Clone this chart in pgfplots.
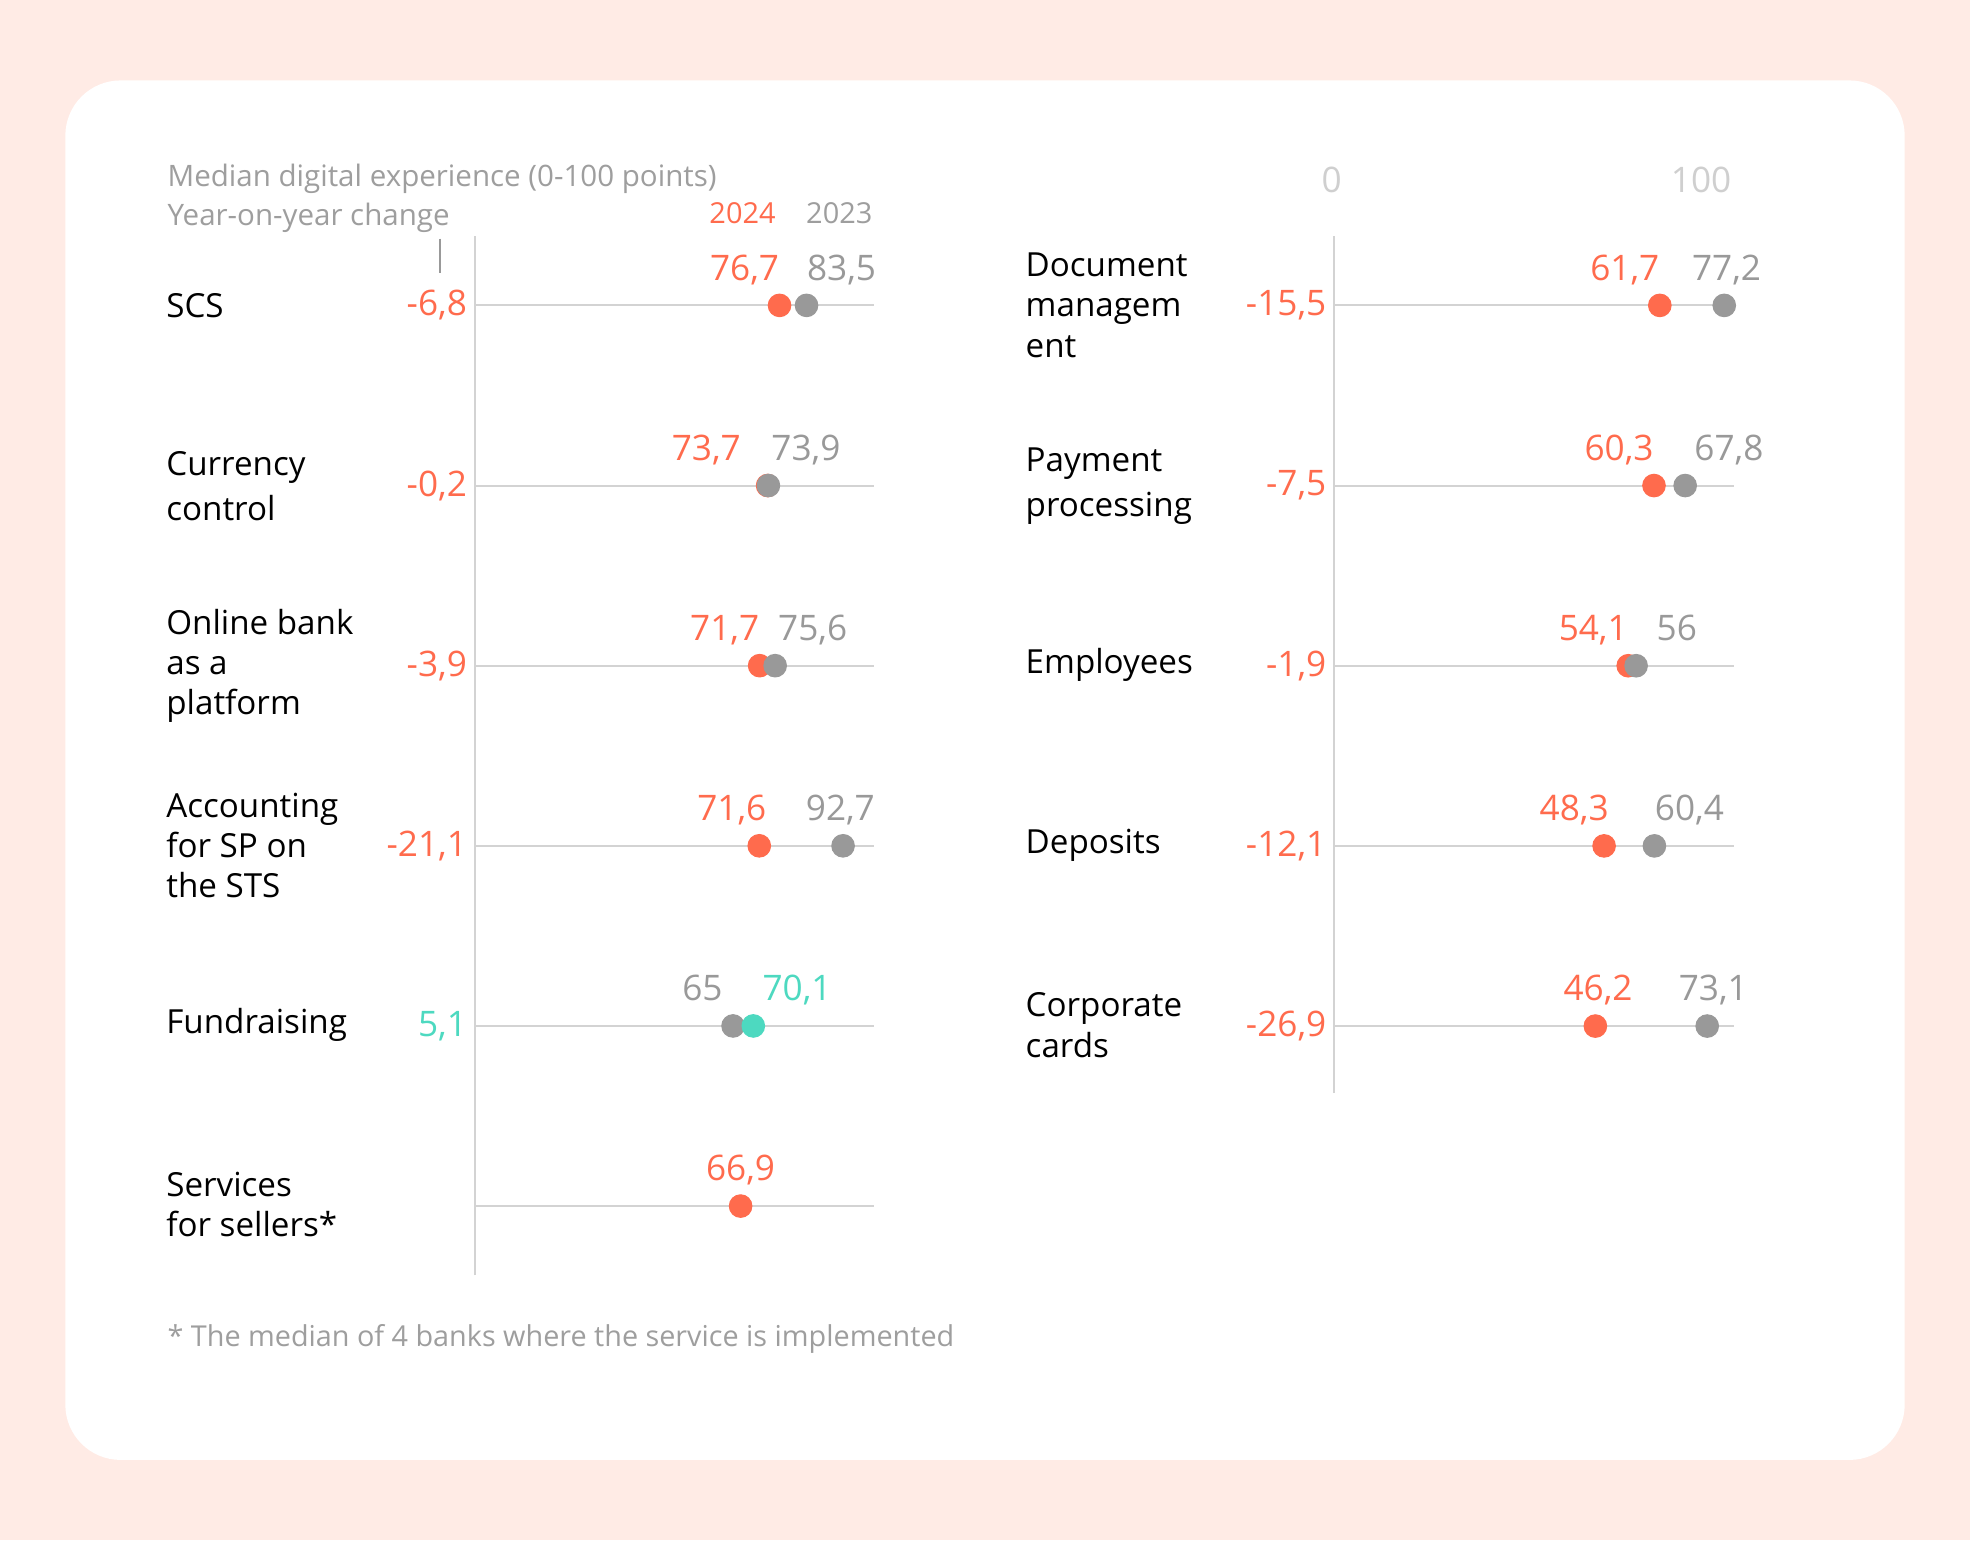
\documentclass[border=0pt]{standalone}
\usepackage{pgfplots}
\pgfplotsset{compat=1.18}
\usepackage{pgfplotstable}
\usepackage{fontspec}
\setmainfont{Open Sans}

\definecolor{bgpeach}{HTML}{FFEBE5}
\definecolor{myorange}{HTML}{FF6B4D}
\definecolor{mygray}{HTML}{999999}
\definecolor{hdrgray}{HTML}{9E9E9E}
\definecolor{myteal}{HTML}{4DD9C0}
\definecolor{linegray}{HTML}{D3D3D3}
\definecolor{lightnum}{HTML}{CFCFCF}

\newcommand\valfont{\fontsize{14}{16}\selectfont}
\newcommand\catfont{\fontsize{13.2}{16}\selectfont}
\newcommand\hdrfont{\fontsize{11.75}{13}\selectfont}

% dx = horizontal nudge of the value label (pt)
\pgfplotstableread{
x    y  dx
76.7 0  0
73.7 1  -10.5
71.7 2  0
71.6 3  3
}\leftnew
\pgfplotstableread{
x    y  dx
83.5 0  0
73.9 1  1
75.6 2  1
92.7 3  -15
}\leftold
\pgfplotstableread{
x    y  dx
65   4  -4
}\leftoldfund
\pgfplotstableread{
x    y  dx
70.1 4  3.5
}\leftnewfund
\pgfplotstableread{
x    y  dx
61.7 0  0
60.3 1  0
54.1 2  0
48.3 3  2
46.2 4  15
}\rightnew
\pgfplotstableread{
x    y  dx
77.2 0  -13
67.8 1  3.5
56   2  8
60.4 3  0
73.1 4  -11.5
}\rightold

\tikzset{chg/.style={anchor=east, inner sep=0pt, xshift=-3pt, text=myorange, font=\valfont}}

\pgfplotsset{
  dotaxis/.style={
    scale only axis, hide axis, clip=false, y dir=reverse,
    width=159pt, anchor=north west,
    /pgf/number format/use comma,
    /pgf/number format/assume math mode=true,
  },
  rowline/.style={linegray, line width=0.8pt, forget plot},
  dots/.style={only marks, mark=*, mark size=4.5pt, point meta=x, nodes near coords,
    visualization depends on={\thisrow{dx} \as \dx}},
  lowlab/.style={dots,
    every node near coord/.append style={anchor=base east, yshift=10pt, xshift=\dx pt, inner sep=0pt, font=\valfont}},
  highlab/.style={dots,
    every node near coord/.append style={anchor=base west, yshift=10pt, xshift=\dx pt, inner sep=0pt, font=\valfont}},
}

\begin{document}
\begin{tikzpicture}[x=0.5pt,y=-0.5pt]
\fill[bgpeach] (0,0) rectangle (1568,1226);
\fill[white, rounded corners=22pt] (52,64) rectangle (1516,1162);

\coordinate (L) at (378,188);
\coordinate (R) at (1062,188);

% header texts
\node[anchor=west, inner sep=0pt, text=hdrgray, font=\hdrfont] at (133,142) {Median digital experience (0-100 points)};
\node[anchor=west, inner sep=0pt, text=hdrgray, font=\hdrfont] at (133,173) {Year-on-year change};
\node[inner sep=0pt, text=myorange, font=\fontsize{11.5}{13}\selectfont] at (591,170) {2024};
\node[inner sep=0pt, text=hdrgray, font=\fontsize{11.5}{13}\selectfont] at (668,170) {2023};
\draw[mygray, line width=0.8pt] (350,190) -- (350,217);
\node[inner sep=0pt, text=lightnum, font=\fontsize{14}{16}\selectfont] at (1060,143) {0};
\node[inner sep=0pt, text=lightnum, font=\fontsize{14}{16}\selectfont] at (1354,143) {100};

% left panel
\begin{axis}[dotaxis, at={(L)}, height=413.5pt,
  xmin=0, xmax=100.6, ymin=-0.384, ymax=5.384]
\draw[linegray, line width=0.8pt] (rel axis cs:0,0) -- (rel axis cs:0,1);
\addplot[rowline] coordinates {(0,0)(100.6,0)};
\addplot[rowline] coordinates {(0,1)(100.6,1)};
\addplot[rowline] coordinates {(0,2)(100.6,2)};
\addplot[rowline] coordinates {(0,3)(100.6,3)};
\addplot[rowline] coordinates {(0,4)(100.6,4)};
\addplot[rowline] coordinates {(0,5)(100.6,5)};
% 2024
\addplot[lowlab, color=myorange] table {\leftnew};
\addplot[only marks, mark=*, mark size=4.5pt, color=myorange, point meta=x, nodes near coords,
  every node near coord/.append style={anchor=base, yshift=10pt, inner sep=0pt, font=\valfont}]
  coordinates {(66.9,5)};
% 2023
\addplot[highlab, color=mygray] table {\leftold};
\addplot[lowlab, color=mygray] table {\leftoldfund};
% 2024, growth
\addplot[highlab, color=myteal] table {\leftnewfund};
% changes
\node[chg] at (axis cs:0,0) {-6,8};
\node[chg] at (axis cs:0,1) {-0,2};
\node[chg] at (axis cs:0,2) {-3,9};
\node[chg] at (axis cs:0,3) {-21,1};
\node[chg, text=myteal] at (axis cs:0,4) {5,1};
\end{axis}

% right panel
\begin{axis}[dotaxis, at={(R)}, height=341pt,
  xmin=-16.6, xmax=79.5, ymin=-0.384, ymax=4.372]
\draw[linegray, line width=0.8pt] (rel axis cs:0,0) -- (rel axis cs:0,1);
\addplot[rowline] coordinates {(-16.6,0)(79.5,0)};
\addplot[rowline] coordinates {(-16.6,1)(79.5,1)};
\addplot[rowline] coordinates {(-16.6,2)(79.5,2)};
\addplot[rowline] coordinates {(-16.6,3)(79.5,3)};
\addplot[rowline] coordinates {(-16.6,4)(79.5,4)};
% 2024
\addplot[lowlab, color=myorange] table {\rightnew};
% 2023
\addplot[highlab, color=mygray] table {\rightold};
% changes
\node[chg] at (axis cs:-16.6,0) {-15,5};
\node[chg] at (axis cs:-16.6,1) {-7,5};
\node[chg] at (axis cs:-16.6,2) {-1,9};
\node[chg] at (axis cs:-16.6,3) {-12,1};
\node[chg] at (axis cs:-16.6,4) {-26,9};
\end{axis}

% category names
\begin{scope}[every node/.style={anchor=west, align=left, inner sep=0pt, font=\catfont}]
\node at (132,243) {SCS};
\node at (132,387) {Currency\\[2pt]control};
\node at (132,530) {Online bank\\as a\\platform};
\node at (132,673) {Accounting\\for SP on\\the STS};
\node at (132,816) {Fundraising};
\node at (132,959) {Services\\for sellers*};
\node at (816,243) {Document\\managem\\ent};
\node at (816,387) {Payment\\[2pt]processing};
\node at (816,529) {Employees};
\node at (816,673) {Deposits};
\node at (816,816) {Corporate\\cards};
\end{scope}

% footnote
\node[anchor=west, inner sep=0pt, text=hdrgray, font=\fontsize{11.45}{13}\selectfont] at (133,1066) {* The median of 4 banks where the service is implemented};
\end{tikzpicture}
\end{document}
